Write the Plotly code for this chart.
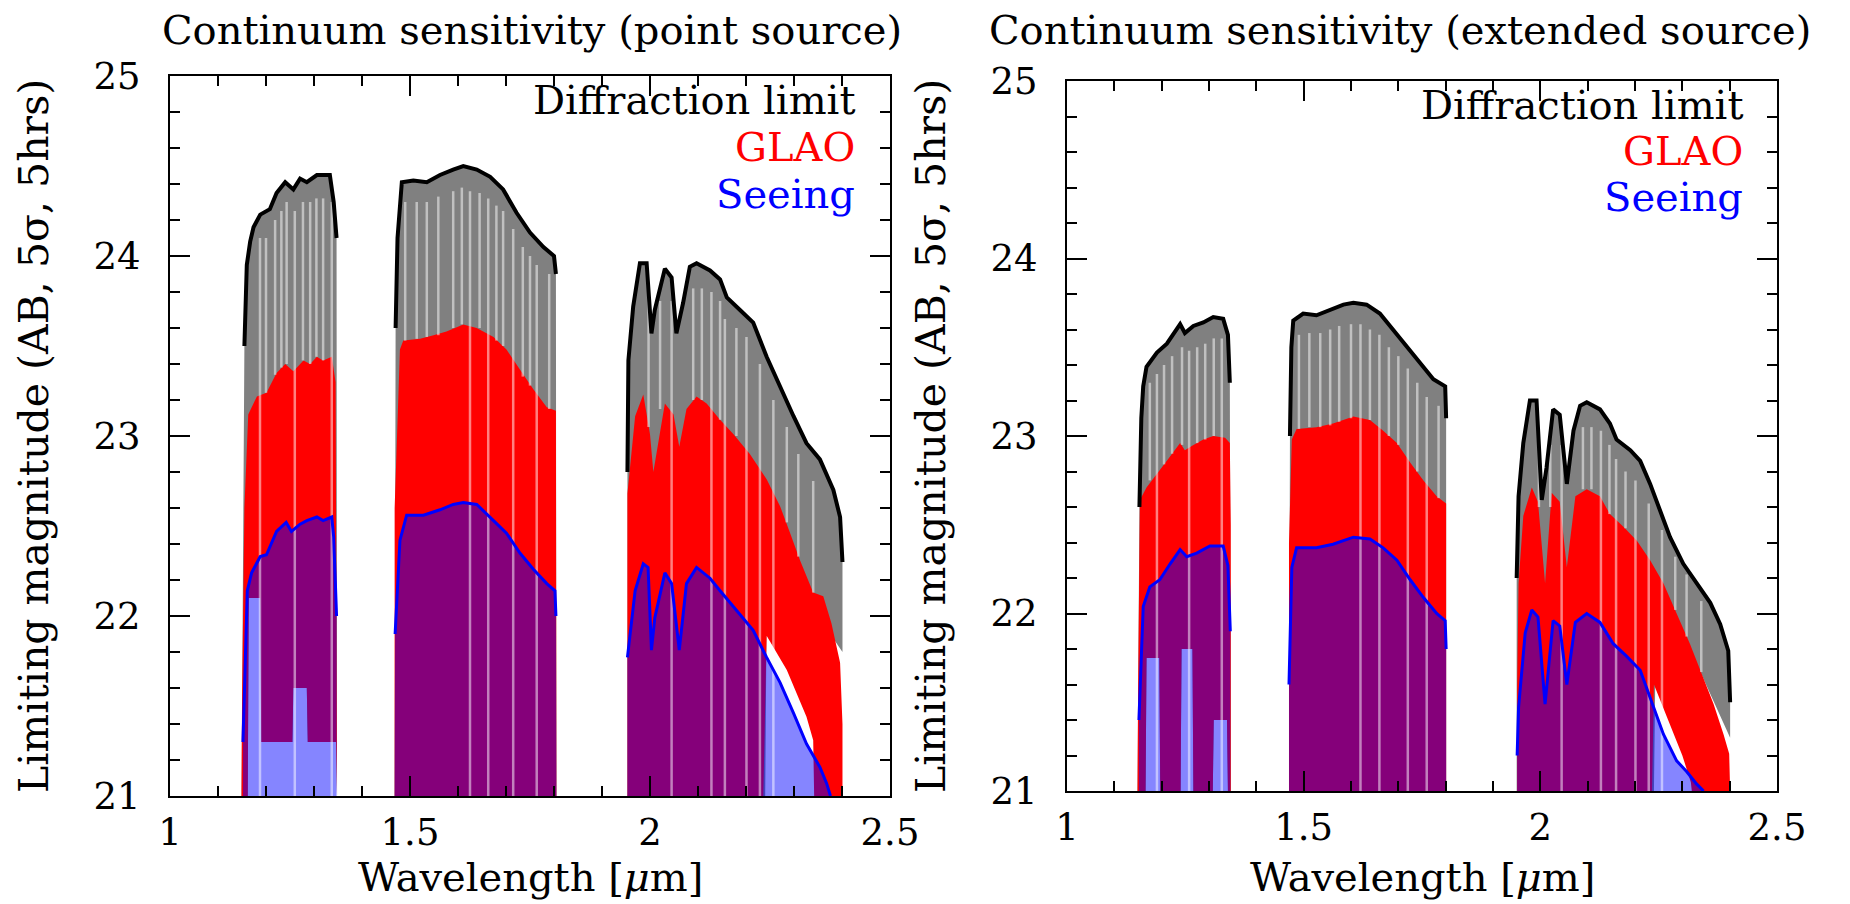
import plotly.graph_objects as go

# ---------------- data ----------------
# Point source panel --------------------------------------------
PS_J_DL_WL = [1.155, 1.160, 1.167, 1.174, 1.188, 1.208, 1.222, 1.240, 1.257, 1.271, 1.285, 1.306, 1.333, 1.341, 1.347]
PS_J_DL = [23.5, 23.95, 24.08, 24.16, 24.23, 24.26, 24.35, 24.41, 24.37, 24.43, 24.41, 24.45, 24.45, 24.30, 24.10]
PS_J_GL_WL = [1.150, 1.155, 1.163, 1.181, 1.201, 1.222, 1.240, 1.257, 1.278, 1.292, 1.306, 1.319, 1.337, 1.345]
PS_J_GL = [21.5, 22.6, 23.12, 23.22, 23.24, 23.35, 23.40, 23.36, 23.42, 23.40, 23.44, 23.42, 23.44, 23.30]
PS_J_SE_WL = [1.152, 1.161, 1.170, 1.188, 1.201, 1.222, 1.242, 1.253, 1.271, 1.285, 1.306, 1.319, 1.337, 1.341, 1.347]
PS_J_SE = [21.3, 22.14, 22.24, 22.33, 22.34, 22.47, 22.52, 22.47, 22.51, 22.53, 22.55, 22.53, 22.55, 22.44, 22.0]
PS_J_SE_LOW_WL = [1.152, 1.347]
PS_J_SE_LOW = [21.0, 21.0]
PS_J_LOW_WL = [1.149, 1.162, 1.164, 1.188, 1.190, 1.255, 1.257, 1.285, 1.287, 1.346, 1.348]
PS_J_LOW = [21.0, 21.0, 22.1, 22.1, 21.3, 21.3, 21.6, 21.6, 21.3, 21.3, 21.0]

PS_H_DL_WL = [1.470, 1.474, 1.483, 1.507, 1.535, 1.5625, 1.590, 1.611, 1.639, 1.667, 1.694, 1.722, 1.750, 1.778, 1.800, 1.804]
PS_H_DL = [23.6, 24.1, 24.41, 24.42, 24.41, 24.45, 24.48, 24.50, 24.48, 24.44, 24.37, 24.24, 24.13, 24.05, 24.0, 23.9]
PS_H_GL_WL = [1.468, 1.479, 1.486, 1.521, 1.549, 1.576, 1.611, 1.639, 1.674, 1.701, 1.729, 1.757, 1.785, 1.804]
PS_H_GL = [22.6, 23.48, 23.53, 23.54, 23.56, 23.58, 23.62, 23.60, 23.55, 23.48, 23.37, 23.26, 23.16, 23.14]
PS_H_SE_WL = [1.469, 1.479, 1.493, 1.528, 1.5625, 1.590, 1.611, 1.639, 1.674, 1.701, 1.729, 1.757, 1.785, 1.802, 1.804]
PS_H_SE = [21.9, 22.42, 22.56, 22.56, 22.59, 22.62, 22.63, 22.62, 22.53, 22.46, 22.35, 22.26, 22.18, 22.14, 22.0]
PS_H_LOW_WL = [1.468, 1.805]
PS_H_LOW = [21.0, 21.0]

PS_K_DL_WL = [1.953, 1.955, 1.965, 1.979, 1.993, 2.003, 2.010, 2.031, 2.045, 2.055, 2.069, 2.083, 2.097, 2.125, 2.146,
              2.160, 2.1875, 2.215, 2.243, 2.271, 2.299, 2.326, 2.354, 2.382, 2.396, 2.401]
PS_K_DL = [22.8, 23.42, 23.72, 23.96, 23.96, 23.57, 23.70, 23.93, 23.88, 23.57, 23.74, 23.94, 23.96, 23.92, 23.87,
           23.77, 23.70, 23.63, 23.44, 23.27, 23.11, 22.96, 22.87, 22.70, 22.55, 22.3]
PS_K_DL_LOW_WL = [1.953, 2.240, 2.245, 2.300, 2.350, 2.401]
PS_K_DL_LOW = [21.0, 21.0, 22.7, 22.3, 22.0, 21.8]
PS_K_GL_WL = [1.953, 1.969, 1.986, 2.000, 2.007, 2.031, 2.049, 2.061, 2.076, 2.097, 2.118, 2.146, 2.174, 2.208,
              2.243, 2.271, 2.292, 2.3125, 2.340, 2.361, 2.378, 2.396, 2.401]
PS_K_GL = [22.68, 23.11, 23.23, 23.01, 22.8, 23.18, 23.12, 22.94, 23.15, 23.22, 23.18, 23.09, 23.01, 22.90,
           22.76, 22.61, 22.46, 22.31, 22.13, 22.11, 21.96, 21.74, 21.4]
PS_K_GL_LOW_WL = [1.953, 2.236, 2.243, 2.285, 2.326, 2.340, 2.342, 2.401]
PS_K_GL_LOW = [21.0, 21.0, 21.89, 21.70, 21.44, 21.31, 21.0, 21.0]
PS_K_SE_WL = [1.953, 1.969, 1.986, 1.996, 2.003, 2.010, 2.031, 2.045, 2.061, 2.076, 2.097, 2.125, 2.146, 2.181,
              2.215, 2.243, 2.271, 2.299, 2.326, 2.354, 2.368, 2.376]
PS_K_SE = [21.77, 22.14, 22.29, 22.27, 21.81, 21.99, 22.24, 22.18, 21.81, 22.18, 22.27, 22.21, 22.14, 22.03,
           21.92, 21.77, 21.63, 21.46, 21.29, 21.16, 21.07, 21.0]
PS_K_SE_LOW_WL = [1.953, 2.376]
PS_K_SE_LOW = [21.0, 21.0]

# light (sky-line) streaks: wavelength, top and bottom magnitude of each streak
PS_STREAK_WL = [1.1875, 1.200, 1.219, 1.232, 1.243, 1.260, 1.277, 1.292, 1.305, 1.319, 1.337,
                1.490, 1.514, 1.535, 1.559, 1.590, 1.608, 1.625, 1.645, 1.663, 1.680, 1.694, 1.715, 1.735, 1.750,
                1.764, 1.790,
                1.997, 2.021, 2.045, 2.090, 2.108, 2.128, 2.146, 2.156, 2.180, 2.201, 2.229, 2.257, 2.285, 2.309,
                2.340]
PS_STREAK_TOP = [24.1, 24.1, 24.2, 24.25, 24.3, 24.25, 24.3, 24.3, 24.32, 24.32, 24.3,
                 24.3, 24.3, 24.3, 24.33, 24.36, 24.38, 24.36, 24.35, 24.32, 24.28, 24.25, 24.15, 24.05, 24.0,
                 23.95, 23.9,
                 23.8, 23.75, 23.75, 23.82, 23.82, 23.8, 23.75, 23.65, 23.6, 23.55, 23.4, 23.2, 23.05, 22.9,
                 22.75]
PS_STREAK_BOT = [21.0, 23.24, 23.34, 23.38, 23.4, 21.0, 23.42, 23.4, 23.44, 23.42, 21.0,
                 23.53, 23.54, 23.55, 23.56, 23.6, 23.62, 21.0, 23.6, 21.0, 23.53, 23.5, 21.0, 23.33, 23.28,
                 21.0, 23.15,
                 23.05, 23.15, 21.0, 23.2, 23.2, 21.0, 23.09, 21.0, 23.0, 21.0, 21.0, 21.0, 22.52, 22.33,
                 22.13]

# Extended source panel -----------------------------------------
ES_J_DL_WL = [1.153, 1.157, 1.161, 1.168, 1.190, 1.211, 1.239, 1.249, 1.267, 1.288, 1.309, 1.330, 1.340, 1.344]
ES_J_DL = [22.6, 23.1, 23.28, 23.39, 23.47, 23.52, 23.63, 23.58, 23.62, 23.64, 23.67, 23.66, 23.57, 23.3]
ES_J_GL_WL = [1.150, 1.154, 1.168, 1.190, 1.211, 1.239, 1.249, 1.267, 1.288, 1.309, 1.334, 1.344, 1.346]
ES_J_GL = [21.5, 22.64, 22.71, 22.79, 22.86, 22.96, 22.92, 22.95, 22.98, 23.00, 22.99, 22.96, 22.5]
ES_J_SE_WL = [1.152, 1.161, 1.175, 1.196, 1.218, 1.239, 1.253, 1.274, 1.302, 1.330, 1.340, 1.345]
ES_J_SE = [21.4, 22.04, 22.15, 22.19, 22.28, 22.36, 22.32, 22.34, 22.38, 22.38, 22.27, 21.9]
ES_J_SE_LOW_WL = [1.152, 1.345]
ES_J_SE_LOW = [21.0, 21.0]
ES_J_LOW_WL = [1.149, 1.166, 1.168, 1.195, 1.197, 1.240, 1.242, 1.265, 1.267, 1.308, 1.310, 1.338, 1.340, 1.346]
ES_J_LOW = [21.0, 21.0, 21.75, 21.75, 21.0, 21.0, 21.8, 21.8, 21.0, 21.0, 21.4, 21.4, 21.0, 21.0]

ES_H_DL_WL = [1.471, 1.474, 1.478, 1.499, 1.527, 1.556, 1.584, 1.605, 1.633, 1.661, 1.689, 1.718, 1.746, 1.774, 1.799, 1.801]
ES_H_DL = [23.0, 23.5, 23.65, 23.69, 23.68, 23.71, 23.74, 23.75, 23.74, 23.69, 23.60, 23.50, 23.41, 23.32, 23.28, 23.1]
ES_H_GL_WL = [1.469, 1.475, 1.485, 1.527, 1.562, 1.605, 1.640, 1.668, 1.697, 1.725, 1.753, 1.781, 1.801]
ES_H_GL = [22.4, 22.98, 23.04, 23.05, 23.07, 23.11, 23.09, 23.03, 22.96, 22.85, 22.75, 22.66, 22.62]
ES_H_SE_WL = [1.469, 1.475, 1.485, 1.527, 1.562, 1.605, 1.640, 1.668, 1.697, 1.725, 1.753, 1.781, 1.799, 1.801]
ES_H_SE = [21.6, 22.26, 22.37, 22.37, 22.39, 22.43, 22.42, 22.37, 22.30, 22.19, 22.09, 22.00, 21.96, 21.8]
ES_H_LOW_WL = [1.469, 1.801]
ES_H_LOW = [21.0, 21.0]

ES_K_DL_WL = [1.950, 1.954, 1.964, 1.978, 1.992, 2.003, 2.013, 2.027, 2.041, 2.056, 2.070, 2.084, 2.098, 2.126,
              2.147, 2.161, 2.190, 2.211, 2.232, 2.253, 2.274, 2.302, 2.330, 2.359, 2.380, 2.397, 2.401]
ES_K_DL = [22.2, 22.66, 22.96, 23.20, 23.20, 22.64, 22.82, 23.15, 23.12, 22.73, 23.03, 23.17, 23.19, 23.15,
           23.07, 22.98, 22.92, 22.86, 22.73, 22.58, 22.43, 22.28, 22.17, 22.06, 21.94, 21.79, 21.5]
ES_K_DL_LOW_WL = [1.950, 2.240, 2.245, 2.300, 2.350, 2.401]
ES_K_DL_LOW = [21.0, 21.0, 22.1, 21.9, 21.6, 21.3]
ES_K_GL_WL = [1.951, 1.954, 1.964, 1.982, 1.995, 2.010, 2.024, 2.041, 2.056, 2.074, 2.098, 2.126, 2.147, 2.175,
              2.204, 2.232, 2.260, 2.288, 2.316, 2.344, 2.366, 2.387, 2.399, 2.401]
ES_K_GL = [21.6, 22.17, 22.55, 22.71, 22.63, 22.17, 22.68, 22.63, 22.26, 22.66, 22.70, 22.66, 22.56, 22.49,
           22.41, 22.30, 22.17, 22.00, 21.83, 21.64, 21.49, 21.32, 21.21, 21.0]
ES_K_GL_LOW_WL = [1.951, 2.236, 2.240, 2.270, 2.300, 2.318, 2.320, 2.401]
ES_K_GL_LOW = [21.0, 21.0, 21.6, 21.4, 21.2, 21.05, 21.0, 21.0]
ES_K_SE_WL = [1.951, 1.954, 1.968, 1.982, 1.995, 2.010, 2.027, 2.041, 2.056, 2.074, 2.098, 2.126, 2.154, 2.182,
              2.211, 2.232, 2.260, 2.288, 2.309, 2.330, 2.345]
ES_K_SE = [21.2, 21.47, 21.89, 22.02, 21.98, 21.49, 21.96, 21.93, 21.6, 21.95, 22.00, 21.95, 21.83, 21.76,
           21.68, 21.53, 21.32, 21.17, 21.11, 21.04, 21.0]
ES_K_SE_LOW_WL = [1.951, 2.345]
ES_K_SE_LOW = [21.0, 21.0]

ES_STREAK_WL = [1.175, 1.190, 1.205, 1.222, 1.243, 1.258, 1.275, 1.292, 1.310, 1.327,
                1.490, 1.512, 1.535, 1.556, 1.575, 1.600, 1.620, 1.640, 1.660, 1.680, 1.700, 1.720, 1.740, 1.760,
                1.785,
                1.997, 2.021, 2.045, 2.090, 2.108, 2.128, 2.146, 2.160, 2.180, 2.201, 2.229, 2.257, 2.285, 2.309,
                2.340]
ES_STREAK_TOP = [23.3, 23.35, 23.4, 23.45, 23.5, 23.48, 23.5, 23.52, 23.55, 23.55,
                 23.57, 23.58, 23.58, 23.6, 23.62, 23.63, 23.63, 23.6, 23.57, 23.5, 23.45, 23.38, 23.3, 23.22,
                 23.17,
                 23.05, 22.95, 22.95, 23.05, 23.05, 23.03, 22.95, 22.87, 22.8, 22.75, 22.62, 22.47, 22.32, 22.22,
                 22.07]
ES_STREAK_BOT = [22.75, 21.0, 22.84, 22.9, 22.95, 21.0, 22.96, 22.98, 23.0, 21.0,
                 23.04, 23.05, 23.05, 23.06, 23.08, 23.1, 21.0, 23.09, 21.0, 23.0, 22.95, 21.0, 22.8, 21.0,
                 22.65,
                 22.6, 22.6, 21.0, 22.7, 22.7, 21.0, 22.56, 21.0, 22.48, 21.0, 21.0, 21.0, 22.02, 21.87,
                 21.67]

TITLES = ["Continuum sensitivity (point source)", "Continuum sensitivity (extended source)"]
LEGEND_LABELS = ["Diffraction limit", "GLAO", "Seeing"]
LEGEND_COLORS = ["black", "#ff0000", "#0000ff"]
LEGEND_MAG = [24.865, 24.605, 24.345]
X_TICKS = [1, 1.5, 2, 2.5]
Y_TICKS = [21, 22, 23, 24, 25]

FONT = "DejaVu Serif"
GRAY = "rgb(128,128,128)"
RED = "#ff0000"
BLUE_FILL = "rgba(0,0,255,0.48)"
STREAK = "rgba(255,255,255,0.5)"

fig = go.Figure()


def polygon(up_wl, up_mag, lo_wl, lo_mag, color, xa, ya):
    xs = list(up_wl) + list(lo_wl)[::-1]
    ys = list(up_mag) + list(lo_mag)[::-1]
    fig.add_trace(go.Scatter(x=xs, y=ys, mode="lines", fill="toself", fillcolor=color,
                             line=dict(width=0, color=color), xaxis=xa, yaxis=ya,
                             hoverinfo="skip", showlegend=False))


def edge(wl, mag, color, width, xa, ya):
    fig.add_trace(go.Scatter(x=wl, y=mag, mode="lines", line=dict(color=color, width=width),
                             xaxis=xa, yaxis=ya, hoverinfo="skip", showlegend=False))


def streaks(wl, top, bot, xa, ya):
    xs, ys = [], []
    for w, t, b in zip(wl, top, bot):
        xs += [w, w, None]
        ys += [b, t, None]
    fig.add_trace(go.Scatter(x=xs, y=ys, mode="lines", line=dict(color=STREAK, width=2.5),
                             xaxis=xa, yaxis=ya, hoverinfo="skip", showlegend=False, connectgaps=False))


panels = [
    ("x", "y",
     [(PS_J_DL_WL, PS_J_DL, PS_J_LOW_WL, PS_J_LOW), (PS_H_DL_WL, PS_H_DL, PS_H_LOW_WL, PS_H_LOW),
      (PS_K_DL_WL, PS_K_DL, PS_K_DL_LOW_WL, PS_K_DL_LOW)],
     [(PS_J_GL_WL, PS_J_GL, PS_J_LOW_WL, PS_J_LOW), (PS_H_GL_WL, PS_H_GL, PS_H_LOW_WL, PS_H_LOW),
      (PS_K_GL_WL, PS_K_GL, PS_K_GL_LOW_WL, PS_K_GL_LOW)],
     [(PS_J_SE_WL, PS_J_SE, PS_J_SE_LOW_WL, PS_J_SE_LOW),
      (PS_H_SE_WL, PS_H_SE, PS_H_LOW_WL, PS_H_LOW),
      (PS_K_SE_WL, PS_K_SE, PS_K_SE_LOW_WL, PS_K_SE_LOW)],
     (PS_STREAK_WL, PS_STREAK_TOP, PS_STREAK_BOT)),
    ("x2", "y2",
     [(ES_J_DL_WL, ES_J_DL, ES_J_LOW_WL, ES_J_LOW), (ES_H_DL_WL, ES_H_DL, ES_H_LOW_WL, ES_H_LOW),
      (ES_K_DL_WL, ES_K_DL, ES_K_DL_LOW_WL, ES_K_DL_LOW)],
     [(ES_J_GL_WL, ES_J_GL, ES_J_LOW_WL, ES_J_LOW), (ES_H_GL_WL, ES_H_GL, ES_H_LOW_WL, ES_H_LOW),
      (ES_K_GL_WL, ES_K_GL, ES_K_GL_LOW_WL, ES_K_GL_LOW)],
     [(ES_J_SE_WL, ES_J_SE, ES_J_SE_LOW_WL, ES_J_SE_LOW),
      (ES_H_SE_WL, ES_H_SE, ES_H_LOW_WL, ES_H_LOW),
      (ES_K_SE_WL, ES_K_SE, ES_K_SE_LOW_WL, ES_K_SE_LOW)],
     (ES_STREAK_WL, ES_STREAK_TOP, ES_STREAK_BOT)),
]

for xa, ya, dl, gl, se, st in panels:
    for b in dl:
        polygon(*b, GRAY, xa, ya)
    for b in gl:
        polygon(*b, RED, xa, ya)
    for b in se:
        polygon(*b, BLUE_FILL, xa, ya)
    streaks(st[0], st[1], st[2], xa, ya)
    for b in dl:
        edge(b[0], b[1], "black", 4, xa, ya)
    for b in se:
        edge(b[0], b[1], "#0000ff", 3, xa, ya)

axis_common = dict(showline=True, linewidth=2, linecolor="black", mirror="allticks",
                   ticks="inside", ticklen=20, tickwidth=2, tickcolor="black",
                   showgrid=False, zeroline=False, automargin=False,
                   tickfont=dict(family=FONT, size=37, color="black"))

W, H = 1850, 904
dom = {"x": (170, 890), "y": (76, 796), "x2": (1067, 1777), "y2": (81, 791)}

layout = dict(width=W, height=H, margin=dict(l=0, r=0, t=0, b=0, pad=0, autoexpand=False),
              plot_bgcolor="white", paper_bgcolor="white", showlegend=False)
for name, k, anchor in (("xaxis", "x", "y"), ("xaxis2", "x2", "y2")):
    a, b = dom[k]
    layout[name] = dict(axis_common, domain=[a / W, b / W], range=[1, 2.5], anchor=anchor,
                        tickvals=X_TICKS, ticktext=[str(v) for v in X_TICKS], ticklabelstandoff=3,
                        minor=dict(dtick=0.1, tick0=1, ticklen=10, tickwidth=2, ticks="inside",
                                   tickcolor="black"))
for name, k, anchor in (("yaxis", "y", "x"), ("yaxis2", "y2", "x2")):
    a, b = dom[k]
    layout[name] = dict(axis_common, domain=[1 - b / H, 1 - a / H], range=[21, 25], anchor=anchor,
                        tickvals=Y_TICKS, ticklabelstandoff=20,
                        minor=dict(dtick=0.2, tick0=21, ticklen=10, tickwidth=2, ticks="inside",
                                   tickcolor="black"))
fig.update_layout(**layout)

ann = []
tf = dict(family=FONT, size=40, color="black")
for i, (xa, ya) in enumerate((("x", "y"), ("x2", "y2"))):
    x0, x1 = dom[xa]
    y0, y1 = dom[ya]
    cx = (x0 + x1) / 2
    ann.append(dict(text=TITLES[i], x=[532, 1400][i] / W, y=1 - 30 / H, xref="paper", yref="paper",
                    xanchor="center", yanchor="middle", showarrow=False, font=tf))
    ann.append(dict(text="Wavelength [<i>μ</i>m]", x=cx / W, y=1 - 877 / H, xref="paper", yref="paper",
                    xanchor="center", yanchor="middle", showarrow=False, font=tf))
    ann.append(dict(text="Limiting magnitude (AB, 5σ, 5hrs)", x=[34, 931][i] / W, y=1 - ((y0 + y1) / 2) / H,
                    xref="paper", yref="paper", xanchor="center", yanchor="middle", textangle=-90,
                    showarrow=False, font=dict(family=FONT, size=41, color="black")))
    for lab, col, yy in zip(LEGEND_LABELS, LEGEND_COLORS, LEGEND_MAG):
        ann.append(dict(text=lab, x=2.43, y=yy, xref=xa, yref=ya, xanchor="right", yanchor="middle",
                        showarrow=False, borderpad=0, font=dict(family=FONT, size=40, color=col)))
fig.update_layout(annotations=ann)

fig.write_html("out.html")
